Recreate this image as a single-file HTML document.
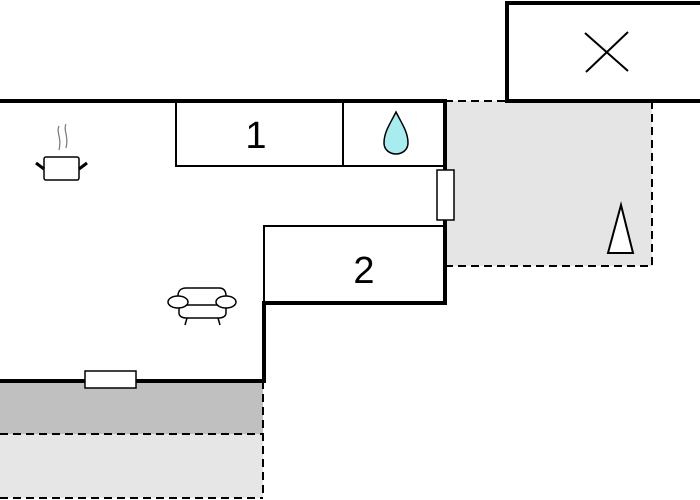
<!DOCTYPE html>
<html><head><meta charset="utf-8"><style>
html,body{margin:0;padding:0;background:#fff;width:700px;height:500px;overflow:hidden}
svg{display:block}
</style></head><body>
<svg width="700" height="500" viewBox="0 0 700 500" xmlns="http://www.w3.org/2000/svg">
<!-- shaded areas -->
<rect x="445" y="101" width="207" height="165" fill="#e5e5e5"/>
<rect x="0" y="381" width="263" height="53" fill="#c0c0c0"/>
<rect x="0" y="434" width="263" height="64" fill="#e6e6e6"/>
<!-- dashed lines -->
<g stroke="#000" stroke-width="2" stroke-dasharray="8,5" fill="none">
<path d="M445 101 H506"/>
<path d="M652 101 V266 H447"/>
<path d="M0 434 H263"/>
<path d="M263 381 V498"/>
<path d="M0 498 H263"/>
</g>
<!-- thin rooms -->
<g stroke="#000" stroke-width="2" fill="#fff">
<rect x="176" y="101" width="269" height="65"/>
<line x1="343" y1="101" x2="343" y2="166"/>
<rect x="264" y="226" width="181" height="77"/>
</g>
<!-- thick walls -->
<g stroke="#000" stroke-width="4" fill="none">
<path d="M0 101 H445 V303 H264 V381 H0"/>
<rect x="507" y="3" width="200" height="98"/>
</g>
<!-- windows -->
<g stroke="#000" stroke-width="1.5" fill="#fff">
<rect x="437" y="170" width="17" height="50"/>
<rect x="85" y="371" width="51" height="17"/>
</g>
<!-- X -->
<g stroke="#000" stroke-width="2">
<line x1="585" y1="33" x2="628" y2="71"/>
<line x1="586" y1="72" x2="628" y2="32"/>
</g>
<!-- triangle -->
<polygon points="621,205 608,253 633,253" fill="#fff" stroke="#000" stroke-width="2"/>
<!-- labels -->
<text x="256" y="148" font-family="Liberation Sans, sans-serif" font-size="38" text-anchor="middle">1</text>
<text x="364" y="283" font-family="Liberation Sans, sans-serif" font-size="38" text-anchor="middle">2</text>
<!-- drop -->
<path d="M396 112 C390 124 384 132 384 143 C384 150 390 154 396 154 C402 154 408 150 408 143 C408 132 402 124 396 112 Z" fill="#a8ecf0" stroke="#000" stroke-width="1.5"/>
<!-- pot -->
<g stroke="#000" stroke-width="1.5" fill="#fff">
<rect x="44" y="157" width="35" height="23" rx="2"/>
</g>
<g stroke="#000" stroke-width="3">
<line x1="36" y1="163" x2="44" y2="169"/>
<line x1="87" y1="163" x2="79" y2="169"/>
</g>
<g stroke="#777" stroke-width="1.2" fill="none">
<path d="M59 126 C56 132 62 138 59 150"/>
<path d="M66 124 C63 130 69 136 66 148"/>
</g>
<!-- armchair -->
<g stroke="#000" stroke-width="1.5" fill="#fff">
<path d="M178 302 V296 C178 290 182 288 186 288 H219 C223 288 226 290 226 296 V302"/>
<path d="M179 305 V313 C179 316 182 318 186 318 H219 C223 318 226 316 226 313 V305"/>
<line x1="179" y1="305" x2="226" y2="305"/>
<ellipse cx="178" cy="302" rx="10" ry="6"/>
<ellipse cx="226" cy="302" rx="10" ry="6"/>
<line x1="187" y1="318" x2="185" y2="325"/>
<line x1="218" y1="318" x2="220" y2="325"/>
</g>
</svg>
</body></html>
